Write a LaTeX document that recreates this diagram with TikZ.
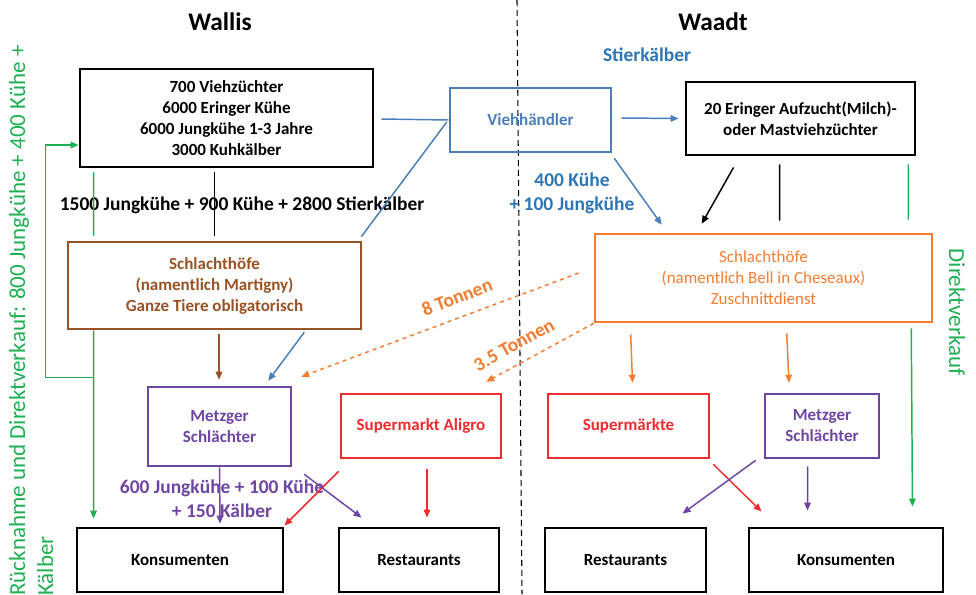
\documentclass[tikz,border=0pt]{standalone}
\usepackage{fontspec}
\setmainfont{Carlito}
\usetikzlibrary{arrows.meta,calc}
\definecolor{cblue}{HTML}{4A7EBB}
\definecolor{cdblue}{HTML}{2E75B6}
\definecolor{corange}{HTML}{F47D31}
\definecolor{cgreen}{HTML}{1DB052}
\definecolor{cred}{HTML}{EE2B2E}
\definecolor{cpurple}{HTML}{6E45A3}
\definecolor{cbrown}{HTML}{985223}
\begin{document}
\begin{tikzpicture}[x=0.75pt,y=-0.75pt,
  corners/.style n args={4}{at={({(#1+#3)/2},{(#2+#4)/2})},
     minimum width={(#3-#1)*0.75pt}, minimum height={(#4-#2)*0.75pt}},
  box/.style={draw, inner sep=0pt, align=center, font=\bfseries\fontsize{12.75}{15.75}\selectfont},
  blackbox/.style={box, line width=2.2pt},
  cbox/.style={box, line width=1.9pt, draw=#1, text=#1},
  conn/.style={line width=1.1pt},
  arr/.style={conn, -{Triangle[length=6pt,width=5pt]}},
  biglabel/.style={align=center, font=\bfseries\fontsize{14.6}{18}\selectfont},
  title/.style={font=\bfseries\fontsize{19}{22}\selectfont}]
\useasboundingbox (0,0) rectangle (976,594);

% titles and divider
\node[title] (tW) at (220,22) {Wallis};
\node[title] (tV) at (713,22) {Waadt};
\coordinate (d1) at (517,0);
\coordinate (d2) at (522,594);
\draw[line width=0.8pt, dash pattern=on 4.5pt off 3pt] (d1) -- (d2);

% boxes
\node[blackbox, corners={80}{69}{373}{167}] (A) {700 Viehzüchter\\6000 Eringer Kühe\\6000 Jungkühe 1-3 Jahre\\3000 Kuhkälber};
\node[cbox=cbrown, corners={68}{242}{361}{329}] (SW) {Schlachthöfe\\(namentlich Martigny)\\Ganze Tiere obligatorisch};
\node[cbox=cblue, corners={450}{88}{611}{152}] (VH) {Viehhändler};
\node[blackbox, corners={686}{82}{915}{155}] (WB) {20 Eringer Aufzucht(Milch)-\\oder Mastviehzüchter};
\node[cbox=corange, corners={595}{234}{932}{322}, font=\fontsize{12.75}{15.75}\selectfont] (SV) {Schlachthöfe\\(namentlich Bell in Cheseaux)\\Zuschnittdienst};
\node[cbox=cpurple, corners={148}{387}{291}{466}] (MW) {Metzger\\Schlächter};
\node[cbox=cred, corners={341}{394}{501}{458}] (AL) {Supermarkt Aligro};
\node[cbox=cred, corners={548}{394}{709}{458}] (SM) {Supermärkte};
\node[cbox=cpurple, corners={765}{394}{879}{458}] (MV) {Metzger\\Schlächter};
\node[blackbox, corners={77}{528}{283}{592}] (K1) {Konsumenten};
\node[blackbox, corners={339}{528}{499}{592}] (R1) {Restaurants};
\node[blackbox, corners={545}{528}{706}{592}] (R2) {Restaurants};
\node[blackbox, corners={749}{528}{943}{592}] (K2) {Konsumenten};

% labels
\node[biglabel] (L1) at (242,205) {1500 Jungkühe + 900 Kühe + 2800 Stierkälber};
\node[biglabel, text=cdblue] (L2) at (647,55) {Stierkälber};
\node[biglabel, text=cdblue] (L3) at (572,193) {400 Kühe\\+ 100 Jungkühe};
\node[biglabel, text=cpurple] (L4) at (222,499) {600 Jungkühe + 100 Kühe\\+ 150 Kälber};
\node[biglabel, text=corange, rotate=20.6] (L5) at (457,297) {8 Tonnen};
\node[biglabel, text=corange, rotate=29] (L6) at (514,345) {3.5 Tonnen};
\node[text=cgreen, rotate=-90, font=\fontsize{17.25}{21}\selectfont] (L7) at (957,312) {Direktverkauf};
\node[text=cgreen, rotate=90, anchor=north west, align=left, inner sep=0pt,
      font=\fontsize{17.25}{21}\selectfont] (L8) at (9,596) {Rücknahme und Direktverkauf: 800 Jungkühe + 400 Kühe +\\Kälber};

% connectors Wallis
\draw[cblue, conn] ($(A.east)+(7,1)$) -- (VH.west);
\draw[cblue, conn] ($(VH.west)+(-2,2)$) -- ($(SW.north east)+(-1,-4)$);
\draw[cgreen, conn] ($(A.south west)+(15,4)$) -- ($(SW.north west)+(27,-5)$);
\draw[conn] ($(A.south)+(-12,4)$) -- ($(SW.north)+(0,-5)$);
\draw[cgreen, arr] ($(SW.south west)+(27,0)$) -- ($(K1.north west)+(18,-8)$);
\coordinate (g1) at ($(SW.south west)+(27,47)$);
\draw[cgreen, arr] (g1) -| ($(A.west)+(-33,27)$) -- ($(A.west)+(0,27)$);
\draw[cbrown, arr] ($(SW.south)+(4.5,4)$) -- ($(MW.north)+(-0.5,-6)$);
\draw[cblue, arr] ($(SW.south east)+(-58,2)$) -- ($(MW.north east)+(-24,-5)$);
\draw[cpurple, arr] (MW.south) -- ($(K1.north)+(40,-3)$);
\draw[cred, arr] ($(AL.south west)+(-1,12)$) -- ($(K1.north east)+(0,-1)$);
\draw[cpurple, arr] ($(MW.south east)+(12,7)$) -- ($(R1.north west)+(24,-9)$);
\draw[cred, arr] ($(AL.south)+(6,10)$) -- ($(R1.north)+(8,-9)$);

% connectors Waadt
\draw[cblue, arr] ($(VH.east)+(9,-2)$) -- ($(WB.west)+(-6,0)$);
\draw[cblue, arr] ($(VH.south east)+(2,5)$) -- ($(SV.north west)+(68,-8)$);
\draw[arr] ($(WB.south west)+(49,11)$) -- ($(SV.north west)+(108,-9)$);
\draw[conn] ($(WB.south west)+(95,8)$) -- ($(SV.north west)+(186,-12)$);
\draw[cgreen, conn] ($(WB.south east)+(-8,8)$) -- ($(SV.north east)+(-25,-13)$);
\draw[cgreen, arr] ($(SV.south east)+(-22,5)$) -- ($(K2.north east)+(-32,-20)$);
\draw[corange, arr, dashed] ($(SV.west)+(-15,-5)$) -- ($(MW.north east)+(9,-9)$);
\draw[corange, arr, dashed] (SV.south west) -- ($(AL.north east)+(-16,-11)$);
\draw[corange, arr] ($(SV.south west)+(37,11)$) -- ($(SM.north)+(4,-10)$);
\draw[corange, arr] ($(SV.south west)+(193,10)$) -- ($(MV.north)+(-33,-10)$);
\draw[cred, arr] ($(SM.south east)+(3,5)$) -- ($(K2.north west)+(14,-15)$);
\draw[cpurple, arr] ($(MV.south west)+(-8,1)$) -- ($(R2.north west)+(139,-13)$);
\draw[cpurple, arr] ($(MV.south west)+(44,7)$) -- ($(K2.north west)+(60,-16)$);
\end{tikzpicture}
\end{document}
